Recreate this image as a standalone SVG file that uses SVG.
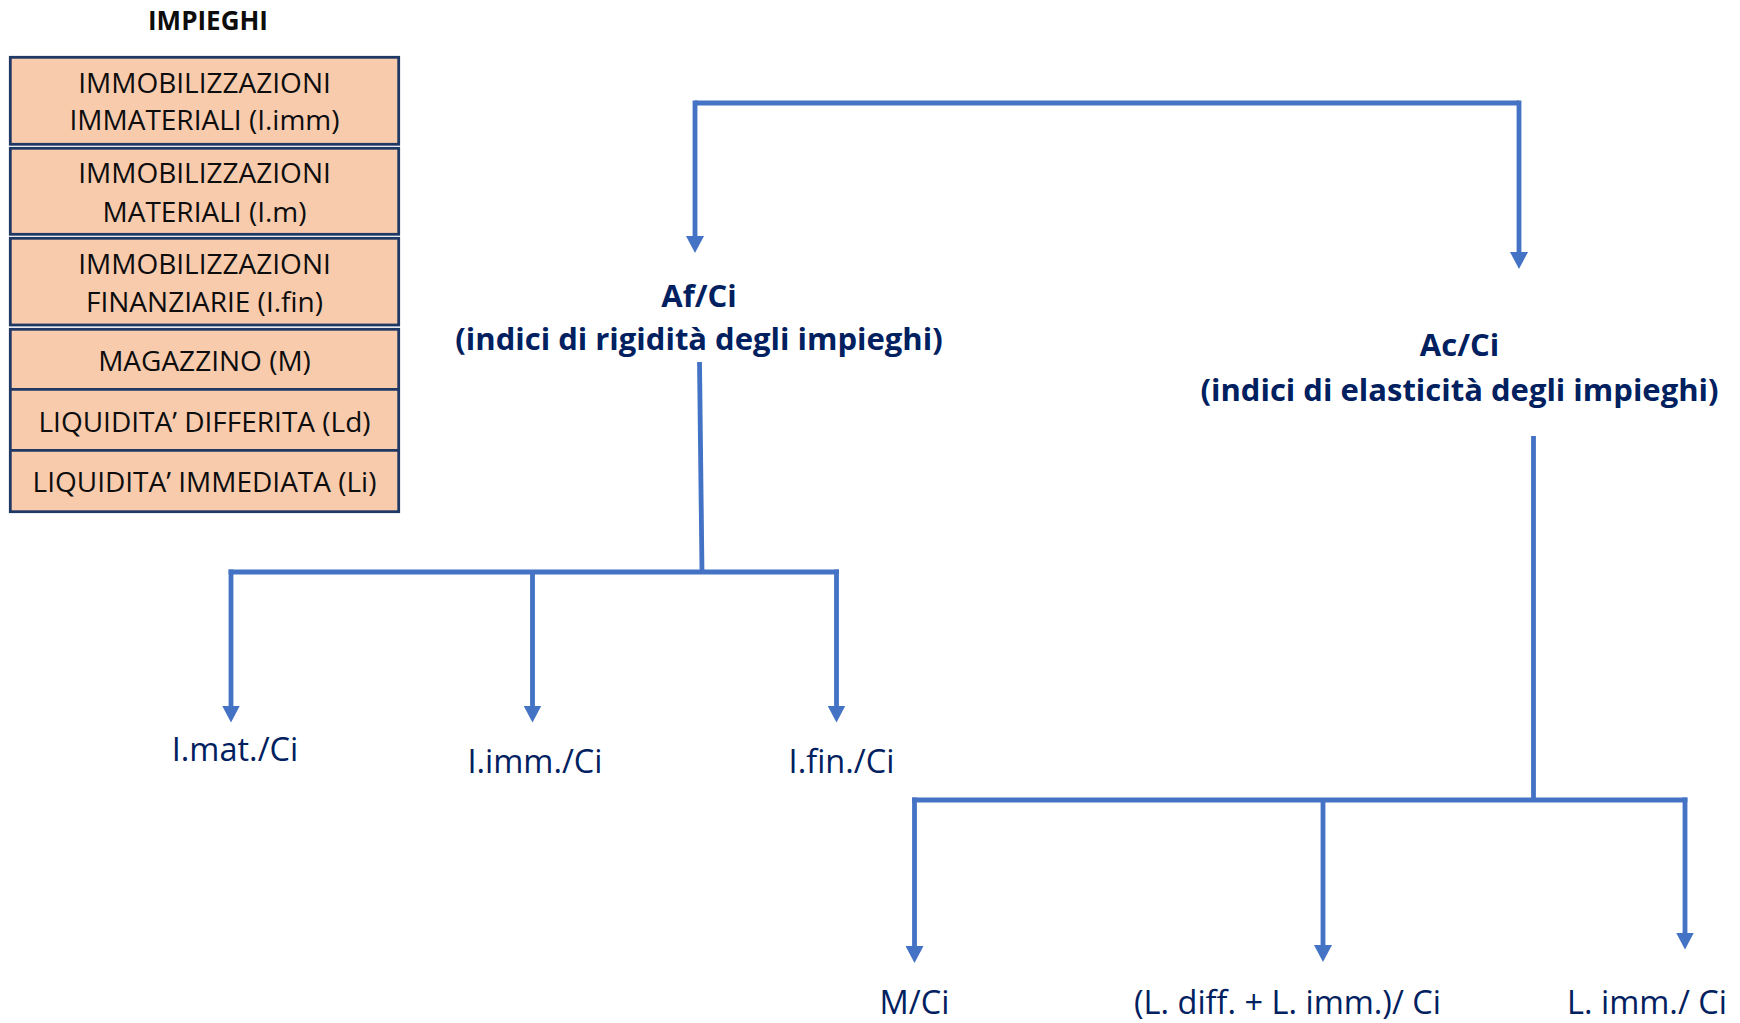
<svg xmlns="http://www.w3.org/2000/svg" width="1740" height="1023" viewBox="0 0 1740 1023">
  <defs>
    <style>
      .cell { fill: #F8CBAD; stroke: #1F3864; stroke-width: 2.8; }
      .divider { stroke: #1F3864; stroke-width: 2.8; }
      .cellText { font-family: "Open Sans", "Liberation Sans", sans-serif; font-size: 28px; fill: #0D0D0D; text-anchor: middle; }
      .title { font-family: "Open Sans", "Liberation Sans", sans-serif; font-size: 26px; font-weight: bold; fill: #0D0D0D; text-anchor: middle; }
      .head { font-family: "Open Sans", "Liberation Sans", sans-serif; font-size: 31px; font-weight: bold; fill: #002060; text-anchor: middle; }
      .leaf { font-family: "Open Sans", "Liberation Sans", sans-serif; font-size: 32.5px; fill: #002060; text-anchor: middle; }
      .link { fill: none; stroke: #4472C4; stroke-width: 4.8; stroke-linejoin: miter; }
    </style>
    <marker id="arrow" viewBox="0 0 17 18" refX="7" refY="9" markerWidth="17" markerHeight="18" markerUnits="userSpaceOnUse" orient="auto">
      <path d="M0,0 L17,9 L0,18 z" fill="#4472C4"/>
    </marker>
  </defs>

  <rect width="1740" height="1023" fill="#FFFFFF"/>

  <!-- balance sheet: uses of funds -->
  <g id="impieghi">
    <text class="title" x="208" y="30">IMPIEGHI</text>
    <g id="row-imm">
      <rect class="cell" x="10.3" y="57.3" width="388.4" height="87"/>
      <text class="cellText" x="204.5" y="93">IMMOBILIZZAZIONI</text>
      <text class="cellText" x="204.5" y="130">IMMATERIALI (I.imm)</text>
    </g>
    <g id="row-mat">
      <rect class="cell" x="10.3" y="148.3" width="388.4" height="86"/>
      <text class="cellText" x="204.5" y="183">IMMOBILIZZAZIONI</text>
      <text class="cellText" x="204.5" y="222">MATERIALI (I.m)</text>
    </g>
    <g id="row-fin">
      <rect class="cell" x="10.3" y="238.3" width="388.4" height="86.7"/>
      <text class="cellText" x="204.5" y="273.5">IMMOBILIZZAZIONI</text>
      <text class="cellText" x="204.5" y="312">FINANZIARIE (I.fin)</text>
    </g>
    <g id="row-current">
      <rect class="cell" x="10.3" y="329.3" width="388.4" height="182.4"/>
      <line class="divider" x1="10.3" y1="389.3" x2="398.7" y2="389.3"/>
      <line class="divider" x1="10.3" y1="450.3" x2="398.7" y2="450.3"/>
      <text class="cellText" x="204.5" y="371">MAGAZZINO (M)</text>
      <text class="cellText" x="204.5" y="432">LIQUIDITA’ DIFFERITA (Ld)</text>
      <text class="cellText" x="204.5" y="492">LIQUIDITA’ IMMEDIATA (Li)</text>
    </g>
  </g>

  <!-- connectors -->
  <g id="connectors">
    <path class="link" d="M695,103 H1519"/>
    <path class="link" d="M695,100.6 V243" marker-end="url(#arrow)"/>
    <path class="link" d="M1519,100.6 V259" marker-end="url(#arrow)"/>

    <path class="link" d="M699.5,362 L702,572"/>
    <path class="link" d="M228.6,572 H838.9"/>
    <path class="link" d="M231,569.6 V712.5" marker-end="url(#arrow)"/>
    <path class="link" d="M532.5,572 V712.5" marker-end="url(#arrow)"/>
    <path class="link" d="M836.5,569.6 V712.5" marker-end="url(#arrow)"/>

    <path class="link" d="M1533.5,436 V800"/>
    <path class="link" d="M912.1,800 H1687.4"/>
    <path class="link" d="M914.5,797.6 V953" marker-end="url(#arrow)"/>
    <path class="link" d="M1323,800 V952" marker-end="url(#arrow)"/>
    <path class="link" d="M1685,797.6 V939.5" marker-end="url(#arrow)"/>
  </g>

  <g id="node-af">
    <text class="head" x="699" y="306.5">Af/Ci</text>
    <text class="head" x="699" y="350">(indici di rigidità degli impieghi)</text>
  </g>
  <g id="node-ac">
    <text class="head" x="1459.5" y="356">Ac/Ci</text>
    <text class="head" x="1459.5" y="400.5">(indici di elasticità degli impieghi)</text>
  </g>

  <g id="leaf-imat"><text class="leaf" x="235" y="760.5">I.mat./Ci</text></g>
  <g id="leaf-iimm"><text class="leaf" x="535" y="773">I.imm./Ci</text></g>
  <g id="leaf-ifin"><text class="leaf" x="841.5" y="772.5">I.fin./Ci</text></g>

  <g id="leaf-m"><text class="leaf" x="914.5" y="1013.5">M/Ci</text></g>
  <g id="leaf-ldiff"><text class="leaf" x="1287.5" y="1013.5">(L. diff. + L. imm.)/ Ci</text></g>
  <g id="leaf-limm"><text class="leaf" x="1647" y="1013.5">L. imm./ Ci</text></g>
</svg>
